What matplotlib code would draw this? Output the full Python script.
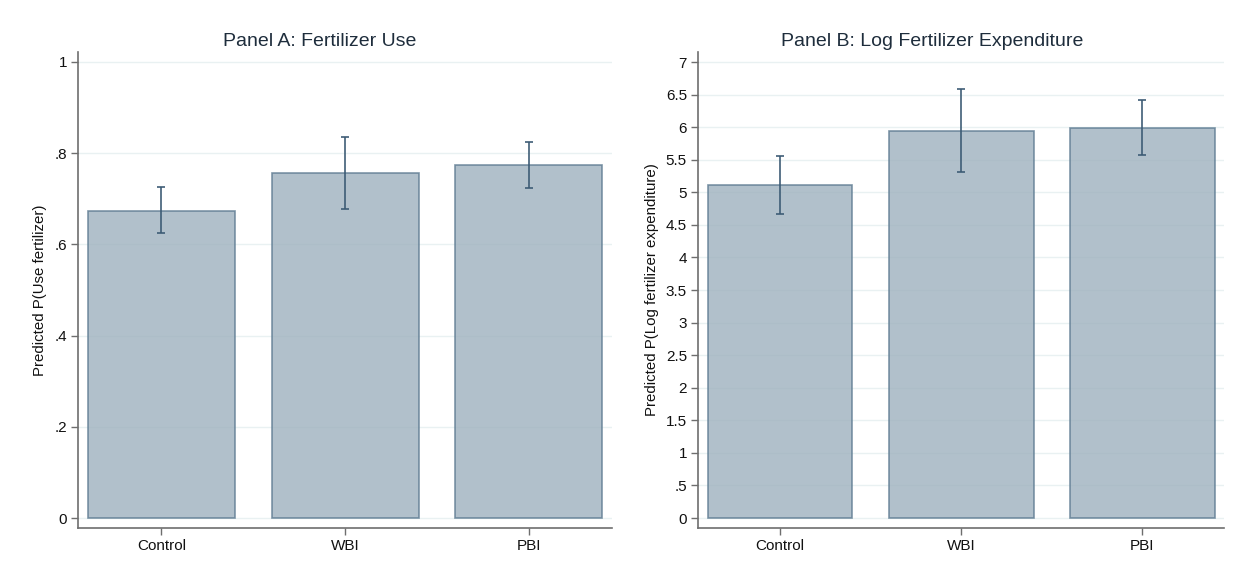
import matplotlib
matplotlib.use("Agg")
import matplotlib.pyplot as plt
from matplotlib.ticker import FixedLocator

plt.rcParams['font.family'] = ['Liberation Sans', 'DejaVu Sans']

categories = ["Control", "WBI", "PBI"]

# Panel A: Fertilizer use
a_values = [0.674, 0.756, 0.774]
a_lower = [0.624, 0.678, 0.724]
a_upper = [0.725, 0.836, 0.825]
a_ticks = [0, 0.2, 0.4, 0.6, 0.8, 1.0]
a_ticklabels = ["0", ".2", ".4", ".6", ".8", "1"]

# Panel B: Log fertilizer expenditure
b_values = [5.107, 5.940, 5.987]
b_lower = [4.672, 5.307, 5.577]
b_upper = [5.562, 6.590, 6.417]
b_ticks = [0, 0.5, 1, 1.5, 2, 2.5, 3, 3.5, 4, 4.5, 5, 5.5, 6, 6.5, 7]
b_ticklabels = ["0", ".5", "1", "1.5", "2", "2.5", "3", "3.5", "4", "4.5",
                "5", "5.5", "6", "6.5", "7"]

fill_color = "#9cafbd"
edge_color = "#5b7990"
err_color = "#3b5a74"
grid_color = "#e9f1f2"
spine_color = "#6e6e6e"

fig = plt.figure(figsize=(12.5, 5.85), dpi=100)
fig.patch.set_facecolor("white")

ax_a = fig.add_axes([0.0624, 0.0974, 0.4272, 0.8137])
ax_b = fig.add_axes([0.5584, 0.0974, 0.4208, 0.8137])


def draw(ax, values, lower, upper, ticks, ticklabels, ylim, title, title_x,
         ylabel):
    x = list(range(len(categories)))
    ax.set_axisbelow(True)
    ax.yaxis.grid(True, color=grid_color, linewidth=1.0)
    ax.bar(x, values, width=0.8, color=fill_color, alpha=0.78,
           edgecolor=edge_color, linewidth=1.2, zorder=2)
    yerr = [[v - l for v, l in zip(values, lower)],
            [u - v for v, u in zip(values, upper)]]
    ax.errorbar(x, values, yerr=yerr, fmt="none", ecolor=err_color,
                elinewidth=1.3, capsize=3, capthick=1.3, alpha=0.9, zorder=3)
    ax.set_xlim(-0.453, 2.452)
    ax.set_ylim(*ylim)
    ax.yaxis.set_major_locator(FixedLocator(ticks))
    ax.set_yticklabels(ticklabels)
    ax.set_xticks(x)
    ax.set_xticklabels(categories)
    for s in ["top", "right"]:
        ax.spines[s].set_visible(False)
    for s in ["left", "bottom"]:
        ax.spines[s].set_color(spine_color)
        ax.spines[s].set_linewidth(1.2)
    ax.tick_params(axis="both", direction="out", length=5, width=1.0,
                   color=spine_color, labelsize=11, labelcolor="#111111")
    ax.tick_params(axis="y", pad=3)
    ax.tick_params(axis="x", pad=3)
    ax.set_title(title, fontsize=14, color="#1e2d3c", pad=4, x=title_x)
    ax.set_ylabel(ylabel, fontsize=10.8, color="#111111", labelpad=5)


draw(ax_a, a_values, a_lower, a_upper, a_ticks, a_ticklabels,
     (-0.0219, 1.0219), "Panel A: Fertilizer Use", 0.453,
     "Predicted P(Use fertilizer)")
draw(ax_b, b_values, b_lower, b_upper, b_ticks, b_ticklabels,
     (-0.1535, 7.1535), "Panel B: Log Fertilizer Expenditure", 0.445,
     "Predicted P(Log fertilizer expenditure)")

fig.savefig("out.png", dpi=100, facecolor="white")
